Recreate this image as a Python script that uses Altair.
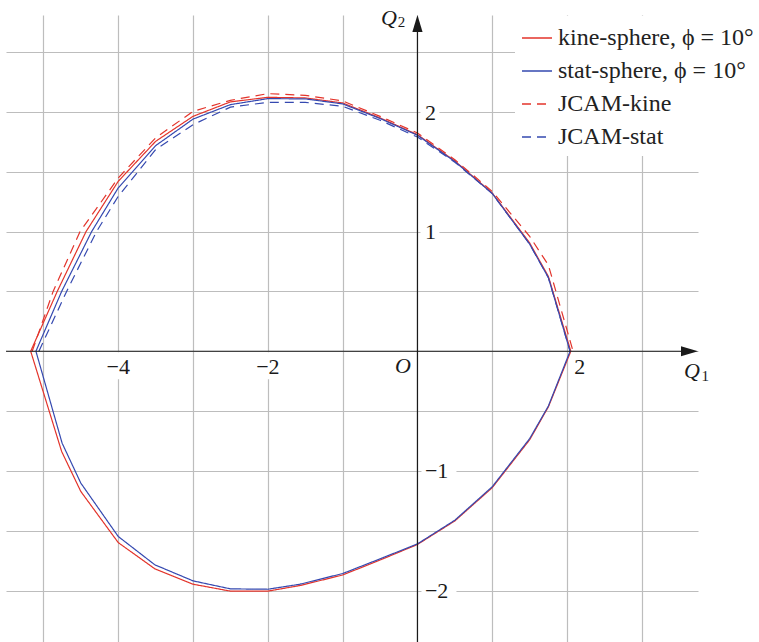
import altair as alt
import pandas as pd

# ---------------------------------------------------------------------------
# Curve data (Q1, Q2).  Closed loops: upper branch left -> right, then the
# lower branch back from right -> left.  JCAM curves only have the upper branch.
# ---------------------------------------------------------------------------
kine_upper_q1 = [-5.17, -4.815, -4.43, -4.0, -3.5, -3.0, -2.5, -2.0, -1.5, -1.0, -0.5, 0.0, 0.5, 1.0, 1.5, 1.75, 2.05]
kine_upper_q2 = [0.0, 0.5, 1.0, 1.42, 1.754, 1.963, 2.084, 2.122, 2.117, 2.075, 1.95, 1.81, 1.59, 1.322, 0.905, 0.625, 0.0]
kine_lower_q1 = [1.75, 1.5, 1.0, 0.5, 0.0, -0.5, -1.0, -1.57, -2.0, -2.5, -3.0, -3.51, -4.0, -4.5, -4.756, -5.17]
kine_lower_q2 = [-0.465, -0.74, -1.14, -1.418, -1.615, -1.745, -1.87, -1.958, -2.005, -2.005, -1.947, -1.819, -1.599, -1.172, -0.838, 0.0]

stat_upper_q1 = [-5.10, -4.756, -4.355, -4.0, -3.5, -3.0, -2.5, -2.0, -1.5, -1.0, -0.5, 0.0, 0.5, 1.0, 1.5, 1.75, 2.04]
stat_upper_q2 = [0.0, 0.5, 1.0, 1.365, 1.718, 1.94, 2.061, 2.111, 2.109, 2.067, 1.945, 1.805, 1.585, 1.318, 0.895, 0.615, 0.0]
stat_lower_q1 = [1.75, 1.5, 1.0, 0.5, 0.0, -0.5, -1.0, -1.57, -2.0, -2.5, -3.0, -3.51, -4.0, -4.5, -4.75, -5.10]
stat_lower_q2 = [-0.458, -0.73, -1.132, -1.412, -1.61, -1.735, -1.858, -1.947, -1.989, -1.986, -1.919, -1.785, -1.548, -1.102, -0.768, 0.0]

jcam_kine_q1 = [-5.15, -4.87, -4.51, -4.0, -3.5, -3.0, -2.5, -2.0, -1.5, -1.0, -0.5, 0.0, 0.5, 1.0, 1.5, 1.75, 2.08]
jcam_kine_q2 = [0.0, 0.5, 1.0, 1.448, 1.783, 2.005, 2.097, 2.153, 2.139, 2.092, 1.963, 1.824, 1.60, 1.335, 0.96, 0.72, 0.0]

jcam_stat_q1 = [-5.06, -4.69, -4.29, -4.0, -3.5, -3.0, -2.5, -2.0, -1.5, -1.0, -0.5, 0.0, 0.5, 1.0, 1.5, 1.75, 2.04]
jcam_stat_q2 = [0.0, 0.5, 1.0, 1.294, 1.685, 1.894, 2.04, 2.08, 2.08, 2.047, 1.93, 1.79, 1.58, 1.318, 0.895, 0.615, 0.0]

KINE = "kine-sphere, ϕ = 10°"
STAT = "stat-sphere, ϕ = 10°"
JKINE = "JCAM-kine"
JSTAT = "JCAM-stat"
series_names = [KINE, STAT, JKINE, JSTAT]

# tick labels
x_tick_vals = [-4, -2]
x_tick_text = ["−4", "−2"]
x_tick_right_vals = [2]
x_tick_right_text = ["2"]
y_tick_pos_vals = [2, 1]
y_tick_pos_text = ["2", "1"]
y_tick_neg_vals = [-1, -2]
y_tick_neg_text = ["−1", "−2"]

# plotting window
Q1_MIN, Q1_MAX = -5.5, 3.75
Q2_MIN, Q2_MAX = -2.43, 2.81
PLOT_W, PLOT_H = 692, 627

RED = "#e3342b"
BLUE = "#3549b0"
GRID = "#bdbdbd"
AXIS = "#1a1a1a"
FONT = "Liberation Serif"


def branch(name, q1, q2, start):
    return [{"series": name, "q1": a, "q2": b, "k": start + i}
            for i, (a, b) in enumerate(zip(q1, q2))]


rows = []
rows += branch(JKINE, jcam_kine_q1, jcam_kine_q2, 0)
rows += branch(JSTAT, jcam_stat_q1, jcam_stat_q2, 0)
rows += branch(KINE, kine_upper_q1, kine_upper_q2, 0)
rows += branch(KINE, kine_lower_q1, kine_lower_q2, len(kine_upper_q1))
rows += branch(STAT, stat_upper_q1, stat_upper_q2, 0)
rows += branch(STAT, stat_lower_q1, stat_lower_q2, len(stat_upper_q1))
curves = pd.DataFrame(rows)

x_scale = alt.Scale(domain=[Q1_MIN, Q1_MAX], nice=False, zero=False)
y_scale = alt.Scale(domain=[Q2_MIN, Q2_MAX], nice=False, zero=False)

x_axis = alt.Axis(values=list(range(-5, 4)), grid=True, labels=False, ticks=False,
                  domain=False, title=None, gridColor=GRID, gridWidth=1.2)
y_axis = alt.Axis(values=[-2.5, -2, -1.5, -1, -0.5, 0, 0.5, 1, 1.5, 2, 2.5], grid=True,
                  labels=False, ticks=False, domain=False, title=None,
                  gridColor=GRID, gridWidth=1.2)

legend = alt.Legend(title=None, orient="none", legendX=509, legendY=1,
                    symbolType="stroke", symbolSize=900, symbolStrokeWidth=1.3,
                    labelFont=FONT, labelFontSize=24, labelColor="#222222",
                    labelLimit=400, labelOffset=5, rowPadding=5,
                    fillColor="white", padding=6, strokeColor="white")

X = lambda f: alt.X(f, type="quantitative", scale=x_scale, axis=x_axis)
Y = lambda f: alt.Y(f, type="quantitative", scale=y_scale, axis=y_axis)

lines = alt.Chart(curves).mark_line(strokeWidth=1.2).encode(
    x=X("q1"),
    y=Y("q2"),
    color=alt.Color("series:N", scale=alt.Scale(domain=series_names,
                                                range=[RED, BLUE, RED, BLUE]),
                    legend=legend),
    strokeDash=alt.StrokeDash("series:N",
                              scale=alt.Scale(domain=series_names,
                                              range=[[1, 0], [1, 0], [9, 6], [9, 6]]),
                              legend=legend),
    order="k:Q",
)

# white backgrounds behind tick labels
xt = pd.DataFrame({"q1": x_tick_vals, "q2": [0] * len(x_tick_vals), "t": x_tick_text})
xtr = pd.DataFrame({"q1": x_tick_right_vals, "q2": [0] * len(x_tick_right_vals), "t": x_tick_right_text})
ytp = pd.DataFrame({"q1": [0] * len(y_tick_pos_vals), "q2": y_tick_pos_vals, "t": y_tick_pos_text})
ytn = pd.DataFrame({"q1": [0] * len(y_tick_neg_vals), "q2": y_tick_neg_vals, "t": y_tick_neg_text})

box_x = alt.Chart(xt).mark_point(shape="M-17,1H17V28H-17Z", size=4, filled=True,
                                 fill="white", opacity=1, strokeWidth=0).encode(x=X("q1"), y=Y("q2"))
box_yp = alt.Chart(ytp).mark_point(shape="M3,-11H22V11H3Z", size=4, filled=True,
                                   fill="white", opacity=1, strokeWidth=0).encode(x=X("q1"), y=Y("q2"))
box_yn = alt.Chart(ytn).mark_point(shape="M4,-11H39V11H4Z", size=4, filled=True,
                                   fill="white", opacity=1, strokeWidth=0).encode(x=X("q1"), y=Y("q2"))

txt = dict(font=FONT, fontSize=22, color="#1a1a1a")
lab_x = alt.Chart(xt).mark_text(align="center", baseline="alphabetic", dy=22.5, **txt).encode(
    x=X("q1"), y=Y("q2"), text="t:N")
lab_xr = alt.Chart(xtr).mark_text(align="center", baseline="alphabetic", dx=12.7, dy=22.5, **txt).encode(
    x=X("q1"), y=Y("q2"), text="t:N")
lab_yp = alt.Chart(ytp).mark_text(align="left", baseline="alphabetic", dx=7.5, dy=7.8, **txt).encode(
    x=X("q1"), y=Y("q2"), text="t:N")
lab_yn = alt.Chart(ytn).mark_text(align="left", baseline="alphabetic", dx=7.5, dy=7.0, **txt).encode(
    x=X("q1"), y=Y("q2"), text="t:N")

origin = pd.DataFrame({"q1": [0], "q2": [0], "t": ["O"]})
lab_o = alt.Chart(origin).mark_text(align="center", baseline="alphabetic", dx=-14.6, dy=21.5,
                                    fontStyle="italic", **txt).encode(x=X("q1"), y=Y("q2"), text="t:N")

# coordinate axes with arrow heads
ARROW_LEN = 17.0
x_arrow_at = Q1_MAX - (ARROW_LEN / 2) * (Q1_MAX - Q1_MIN) / PLOT_W
y_arrow_at = Q2_MAX - (ARROW_LEN / 2) * (Q2_MAX - Q2_MIN) / PLOT_H

h_axis = pd.DataFrame({"a": [Q1_MIN], "b": [x_arrow_at], "q2": [0]})
v_axis = pd.DataFrame({"q1": [0], "a": [Q2_MIN], "b": [y_arrow_at]})
rule_h = alt.Chart(h_axis).mark_rule(color=AXIS, strokeWidth=1.2).encode(
    x=X("a"), x2="b", y=Y("q2"))
rule_v = alt.Chart(v_axis).mark_rule(color=AXIS, strokeWidth=1.2).encode(
    x=X("q1"), y=Y("a"), y2="b")

arrow_h = alt.Chart(pd.DataFrame({"q1": [x_arrow_at], "q2": [0]})).mark_point(
    shape="M-1,-0.6L1,0L-1,0.6Z", size=ARROW_LEN ** 2, filled=True, color=AXIS, opacity=1,
    strokeWidth=0).encode(x=X("q1"), y=Y("q2"))
arrow_v = alt.Chart(pd.DataFrame({"q1": [0], "q2": [y_arrow_at]})).mark_point(
    shape="M-0.6,1L0,-1L0.6,1Z", size=ARROW_LEN ** 2, filled=True, color=AXIS, opacity=1,
    strokeWidth=0).encode(x=X("q1"), y=Y("q2"))

# axis names Q1, Q2 (italic letter with subscript)
q1_name = pd.DataFrame({"q1": [Q1_MAX], "q2": [0], "t": ["Q"], "s": ["1"]})
q2_name = pd.DataFrame({"q1": [0], "q2": [Q2_MAX], "t": ["Q"], "s": ["2"]})
q1_letter = alt.Chart(q1_name).mark_text(align="right", baseline="alphabetic", dx=2, dy=26.5,
                                         fontStyle="italic", **txt).encode(x=X("q1"), y=Y("q2"), text="t:N")
q1_sub = alt.Chart(q1_name).mark_text(align="left", baseline="alphabetic", dx=3.4, dy=30,
                                      font=FONT, fontSize=15, color="#1a1a1a").encode(
    x=X("q1"), y=Y("q2"), text="s:N")
q2_letter = alt.Chart(q2_name).mark_text(align="right", baseline="alphabetic", dx=-20.6, dy=9.5,
                                         fontStyle="italic", **txt).encode(x=X("q1"), y=Y("q2"), text="t:N")
q2_sub = alt.Chart(q2_name).mark_text(align="left", baseline="alphabetic", dx=-19.6, dy=12,
                                      font=FONT, fontSize=15, color="#1a1a1a").encode(
    x=X("q1"), y=Y("q2"), text="s:N")

chart = alt.layer(
    box_x, box_yp, box_yn,
    lines,
    rule_h, rule_v, arrow_h, arrow_v,
    lab_x, lab_xr, lab_yp, lab_yn, lab_o,
    q1_letter, q1_sub, q2_letter, q2_sub,
).properties(
    width=PLOT_W, height=PLOT_H,
    autosize=alt.AutoSizeParams(type="none"),
    padding={"left": 6, "top": 15, "right": 61, "bottom": 0},
    background="white",
).configure_view(stroke=None)

chart.save("out.html", embed_options={"renderer": "svg", "actions": False})
